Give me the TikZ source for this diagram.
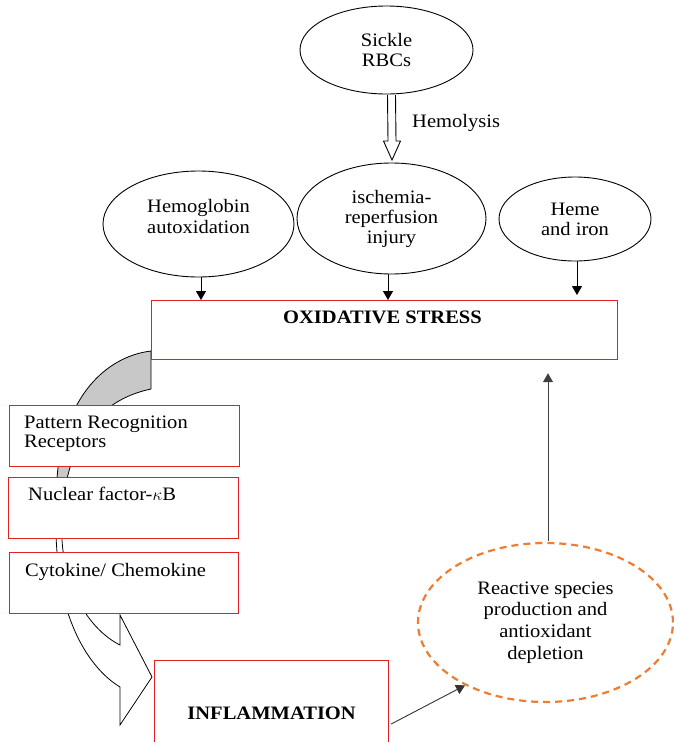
\documentclass[tikz,border=0pt]{standalone}
\usepackage{fontspec}
\setmainfont{Liberation Serif}[FakeStretch=1.08]
\usetikzlibrary{shapes.geometric,arrows.meta,calc}
\definecolor{boxred}{RGB}{226,32,36}
\definecolor{dashorange}{RGB}{237,125,49}
\definecolor{arrowgray}{RGB}{200,200,200}
\begin{document}
\begin{tikzpicture}[x=1pt,y=-1pt,
  font=\fontsize{19}{20}\selectfont,
  ell/.style={ellipse, draw, line width=0.9pt, inner sep=0pt, align=center, fill=white},
  rbox/.style={draw=boxred, line width=1.2pt, fill=white, anchor=north west, inner sep=0pt},
  txt/.style={inner sep=0pt, align=left},
  arr/.style={-{Triangle[length=9pt,width=10pt]}, line width=0.9pt},
  hollowarrow/.style={draw, line width=0.9pt, fill=white},
  curvedarrow/.style={draw, line width=0.8pt}
]
\useasboundingbox (0,0) rectangle (673,742);

% big curved arrow (drawn first, behind the boxes)
\def\curvedpath{(151,351) .. controls (110,356) and (70,390) .. (59,460)
  .. controls (52,510) and (56,580) .. (68,613)
  .. controls (80,650) and (100,675) .. (120,687)
  -- (120,725) -- (152,677) -- (120,615) -- (120,645)
  .. controls (90,630) and (65,590) .. (62,540)
  .. controls (60,480) and (75,405) .. (151,389) -- cycle}
\fill[white] \curvedpath;
\begin{scope}
  \clip (0,300) rectangle (160,500);
  \fill[arrowgray] \curvedpath;
\end{scope}
\path[curvedarrow] \curvedpath;

% ellipses
\node[ell, minimum width=173pt, minimum height=88pt] (sickle) at (386.5,50) {Sickle\\RBCs};
\node[ell, minimum width=191pt, minimum height=106pt, font=\fontsize{19}{21}\selectfont] (hemo) at (198.5,224) {Hemoglobin\\autoxidation\rule[-16pt]{0pt}{0pt}};
\node[ell, minimum width=189pt, minimum height=111pt] (isch) at (391.5,218.5) {ischemia-\\reperfusion\\injury};
\node[ell, minimum width=152pt, minimum height=84pt] (heme) at (575,219) {Heme\\and iron};

% hollow hemolysis arrow
\coordinate (hs) at (391.5,95);
\coordinate (ht) at (392,160);
\draw[hollowarrow] ($(hs)+(-4,0)$) -- ($(ht)+(-4,-19)$) -- ($(ht)+(-8.5,-19)$) -- (ht)
  -- ($(ht)+(8.5,-19)$) -- ($(ht)+(4,-19)$) -- ($(hs)+(4,0)$);
\node[txt, anchor=base west] (hemol) at (412,127) {Hemolysis};

% oxidative stress box
\node[rbox, minimum width=466pt, minimum height=59pt] (ox) at (151,300) {};
\node[txt, anchor=base west, font=\fontsize{19}{20}\selectfont\bfseries] (oxt) at ($(ox.north west)+(132,23)$) {OXIDATIVE STRESS};

% arrows into oxidative stress
\draw[arr] ($(hemo.south)+(2.5,0)$) -- ($(hemo.south |- ox.north)+(2.5,0)$);
\draw[arr] ($(isch.south)+(-3.5,0)$) -- ($(isch.south |- ox.north)+(-3.5,0)$);
\draw[arr] ($(heme.south)+(2,0)$) -- ($(heme.south |- ox.north)+(2,-5)$);

% left boxes
\node[rbox, minimum width=230pt, minimum height=61pt] (prr) at (9,405) {};
\node[txt, anchor=north west, font=\fontsize{19}{19}\selectfont] (prrt) at (24,416) {Pattern Recognition\\Receptors};
\node[rbox, minimum width=230pt, minimum height=61pt] (nfk) at (8,477) {};
\node[txt, anchor=base west] (nfkt) at (28,500) {Nuclear factor-$\kappa$B};
\node[rbox, minimum width=229pt, minimum height=61pt] (cyt) at (9,552) {};
\node[txt, anchor=base west] (cytt) at (25,576) {Cytokine/ Chemokine};

% inflammation box
\node[rbox, minimum width=234pt, minimum height=95pt] (inf) at (154,660) {};
\node[txt, anchor=base, font=\fontsize{19}{20}\selectfont\bfseries] (inft) at ($(inf.north)+(0,59)$) {INFLAMMATION};

% reactive species ellipse
\node[ell, draw=dashorange, dash pattern=on 7pt off 5pt, line width=2.2pt,
  minimum width=255pt, minimum height=159pt, font=\fontsize{19}{21.7}\selectfont] (reac) at (545.5,622.5)
  {Reactive species\\production and\\antioxidant\\depletion};

% feedback arrows
\draw[arr, draw=black!75, fill=black] ($(reac.north)+(2.5,-1)$) -- ($(reac.north |- ox.south)+(2.5,13)$);
\draw[arr, draw=black!80] ($(inf.north east)+(2,64)$) -- (reac.218);
\end{tikzpicture}
\end{document}
